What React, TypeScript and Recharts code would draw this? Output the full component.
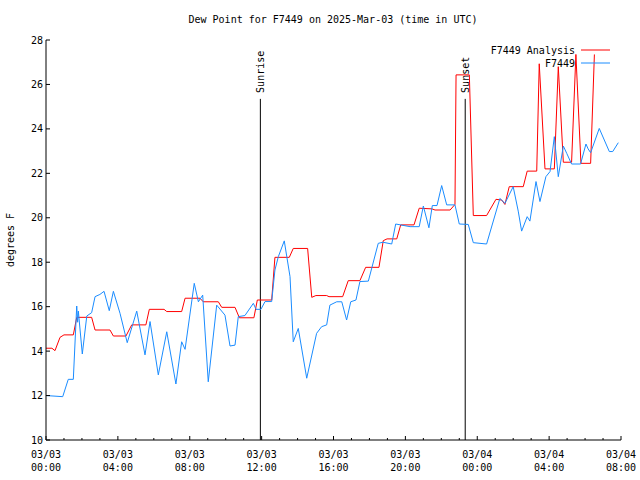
import React from 'react';
import { LineChart, Line, XAxis, YAxis, ReferenceLine } from 'recharts';

const FONT = "'DejaVu Sans Mono', 'Liberation Mono', monospace";

const title = 'Dew Point for F7449 on 2025-Mar-03 (time in UTC)';
const yLabel = 'degrees F';
const seriesNames = ['F7449 Analysis', 'F7449'];
const seriesColors = ['#ff0000', '#1a8cff'];

// [hour since 03/03 00:00 UTC, dew point °F]
const analysisPoints: [number, number][] = [
  [0, 14.13], [0.33, 14.13], [0.5, 14.02], [0.78, 14.62], [1.0, 14.73], [1.52, 14.73],
  [1.71, 15.52], [2.54, 15.52], [2.73, 14.95], [3.56, 14.95], [3.75, 14.68], [4.45, 14.68],
  [4.77, 15.18], [5.56, 15.18], [5.75, 15.88], [6.57, 15.88], [6.72, 15.78], [7.55, 15.78],
  [7.74, 16.38], [8.57, 16.38], [8.75, 16.22], [9.59, 16.22], [9.78, 15.97], [10.52, 15.97],
  [10.76, 15.5], [11.57, 15.5], [11.76, 16.3], [12.56, 16.3], [12.74, 18.22], [13.54, 18.22],
  [13.76, 18.62], [14.56, 18.62], [14.79, 16.42], [15.02, 16.5], [15.62, 16.5], [15.75, 16.45],
  [16.51, 16.45], [16.82, 17.17], [17.47, 17.17], [17.79, 17.77], [18.53, 17.77], [18.77, 18.97],
  [18.98, 19.05], [19.52, 19.05], [19.74, 19.68], [20.48, 19.68], [20.77, 20.43], [21.48, 20.4],
  [21.65, 20.35], [22.49, 20.35], [22.76, 20.6], [22.82, 26.43], [23.56, 26.43], [23.78, 20.1],
  [24.52, 20.1], [25.04, 20.83], [25.36, 20.8], [25.54, 20.6], [25.78, 21.4], [26.56, 21.4],
  [26.78, 22.1], [27.31, 22.1], [27.45, 26.93], [27.77, 22.2], [28.29, 22.2], [28.51, 26.8],
  [28.79, 22.5], [29.25, 22.5], [29.49, 27.35], [29.77, 22.45], [30.31, 22.45], [30.52, 27.35],
];

const stationPoints: [number, number][] = [
  [0, 12.0], [0.93, 11.95], [1.24, 12.73], [1.52, 12.73], [1.71, 16.03], [1.76, 15.3],
  [1.8, 15.8], [2.02, 13.87], [2.27, 15.58], [2.54, 15.73], [2.73, 16.45], [3.0, 16.55],
  [3.23, 16.69], [3.52, 15.82], [3.75, 16.69], [4.12, 15.7], [4.52, 14.38], [5.05, 15.8],
  [5.51, 13.83], [5.79, 15.33], [6.25, 12.93], [6.72, 14.87], [7.23, 12.52], [7.55, 14.42],
  [7.74, 14.08], [8.25, 17.05], [8.48, 16.22], [8.72, 16.52], [9.03, 12.62], [9.5, 16.07],
  [9.96, 15.62], [10.24, 14.23], [10.52, 14.27], [10.7, 15.55], [11.07, 15.6], [11.54, 16.15],
  [11.69, 15.88], [11.96, 15.88], [12.19, 16.23], [12.56, 16.23], [12.74, 17.65], [12.93, 18.25],
  [13.26, 18.96], [13.58, 17.35], [13.76, 14.42], [14.04, 15.02], [14.51, 12.78], [15.06, 14.8],
  [15.34, 15.1], [15.62, 15.18], [15.8, 16.07], [16.18, 16.22], [16.46, 16.22], [16.73, 15.4],
  [16.96, 16.22], [17.25, 16.3], [17.47, 17.13], [17.94, 17.15], [18.49, 18.85], [18.75, 18.9],
  [19.24, 18.82], [19.46, 19.72], [20.26, 19.6], [20.77, 19.6], [21.0, 20.53], [21.31, 19.55],
  [21.5, 20.55], [21.76, 20.55], [22.02, 21.45], [22.3, 20.58], [22.76, 20.58], [23.0, 19.72],
  [23.5, 19.7], [23.78, 18.88], [24.52, 18.82], [25.26, 20.87], [25.54, 20.65], [26.0, 21.4],
  [26.28, 20.3], [26.47, 19.4], [26.78, 20.05], [26.93, 19.85], [27.27, 21.63], [27.49, 20.73],
  [27.82, 21.85], [28.05, 22.08], [28.29, 23.65], [28.51, 21.85], [28.79, 23.23], [28.98, 22.9],
  [29.25, 22.42], [29.75, 22.42], [30.05, 23.32], [30.17, 23.1], [30.31, 22.93], [30.79, 24.02],
  [31.35, 22.98], [31.54, 22.98], [31.85, 23.38],
];

const sunriseHour = 11.93;
const sunsetHour = 23.33;
const sunLineTop = 25.35;

const xDomain: [number, number] = [0, 32];
const yDomain: [number, number] = [10, 28];
const xTicks = Array.from({ length: 33 }, (_, i) => i);
const yTicks = [10, 12, 14, 16, 18, 20, 22, 24, 26, 28];
const xTickLabels: Record<number, [string, string]> = {
  0: ['03/03', '00:00'],
  4: ['03/03', '04:00'],
  8: ['03/03', '08:00'],
  12: ['03/03', '12:00'],
  16: ['03/03', '16:00'],
  20: ['03/03', '20:00'],
  24: ['03/04', '00:00'],
  28: ['03/04', '04:00'],
  32: ['03/04', '08:00'],
};

const analysisData = analysisPoints.map(([h, v]) => ({ h, v }));
const stationData = stationPoints.map(([h, v]) => ({ h, v }));

const BottomTick = (props: any) => {
  const { x, y, payload } = props;
  const v = payload.value;
  const lab = xTickLabels[v];
  const len = lab ? 4 : 2;
  return (
    <g>
      <line x1={x} y1={y} x2={x} y2={y - len} stroke="#000" strokeWidth={1} />
      {lab && (
        <text x={x} y={y + 18} textAnchor="middle" fontFamily={FONT} fontSize={10} fill="#000">
          <tspan x={x}>{lab[0]}</tspan>
          <tspan x={x} dy={13}>{lab[1]}</tspan>
        </text>
      )}
    </g>
  );
};

const TopTick = (props: any) => {
  const { x, y, payload } = props;
  const len = xTickLabels[payload.value] ? 4 : 2;
  return <line x1={x} y1={y} x2={x} y2={y + len} stroke="#000" strokeWidth={1} />;
};

const LeftTick = (props: any) => {
  const { x, y, payload } = props;
  return (
    <g>
      <line x1={x} y1={y} x2={x + 4} y2={y} stroke="#000" strokeWidth={1} />
      <text x={x - 3} y={y} dy="0.35em" textAnchor="end" fontFamily={FONT} fontSize={10} fill="#000">
        {payload.value}
      </text>
    </g>
  );
};

const RightTick = (props: any) => {
  const { x, y } = props;
  return <line x1={x} y1={y} x2={x - 4} y2={y} stroke="#000" strokeWidth={1} />;
};

const SunLabel = (props: any) => {
  const vb = props.viewBox || {};
  const tx = (vb.x ?? 0) + 4;
  const ty = (vb.y ?? 0) - 6;
  return (
    <text
      x={tx}
      y={ty}
      transform={`rotate(-90, ${tx}, ${ty})`}
      textAnchor="start"
      fontFamily={FONT}
      fontSize={10}
      fill="#000"
    >
      {props.text}
    </text>
  );
};

export default function App() {
  return (
    <div style={{ position: 'absolute', left: 0, top: 0, width: 640, height: 480, background: '#fff' }}>
      <LineChart
        width={640}
        height={480}
        margin={{ top: 40, right: 19, bottom: 0, left: 0 }}
      >
        <XAxis
          xAxisId="bottom"
          dataKey="h"
          type="number"
          domain={xDomain}
          ticks={xTicks}
          interval={0}
          allowDataOverflow
          height={40}
          tickSize={0}
          tickMargin={0}
          tickLine={false}
          axisLine={{ stroke: '#000' }}
          tick={<BottomTick />}
        />
        <XAxis
          xAxisId="top"
          orientation="top"
          dataKey="h"
          type="number"
          domain={xDomain}
          ticks={xTicks}
          interval={0}
          allowDataOverflow
          height={0}
          tickSize={0}
          tickMargin={0}
          tickLine={false}
          axisLine={{ stroke: '#000' }}
          tick={<TopTick />}
        />
        <YAxis
          yAxisId="left"
          type="number"
          domain={yDomain}
          ticks={yTicks}
          interval={0}
          allowDataOverflow
          width={46}
          tickSize={0}
          tickMargin={0}
          tickLine={false}
          axisLine={{ stroke: '#000' }}
          tick={<LeftTick />}
        />
        <YAxis
          yAxisId="right"
          orientation="right"
          type="number"
          domain={yDomain}
          ticks={yTicks}
          interval={0}
          allowDataOverflow
          width={0}
          tickSize={0}
          tickMargin={0}
          tickLine={false}
          axisLine={{ stroke: '#000' }}
          tick={<RightTick />}
        />
        <ReferenceLine
          xAxisId="bottom"
          yAxisId="left"
          segment={[{ x: sunriseHour, y: yDomain[0] }, { x: sunriseHour, y: sunLineTop }]}
          stroke="#000"
          strokeWidth={1}
          label={<SunLabel text="Sunrise" />}
        />
        <ReferenceLine
          xAxisId="bottom"
          yAxisId="left"
          segment={[{ x: sunsetHour, y: yDomain[0] }, { x: sunsetHour, y: sunLineTop }]}
          stroke="#000"
          strokeWidth={1}
          label={<SunLabel text="Sunset" />}
        />
        <Line
          xAxisId="bottom"
          yAxisId="left"
          data={analysisData}
          dataKey="v"
          type="linear"
          stroke={seriesColors[0]}
          strokeWidth={1}
          dot={false}
          isAnimationActive={false}
          name={seriesNames[0]}
        />
        <Line
          xAxisId="bottom"
          yAxisId="left"
          data={stationData}
          dataKey="v"
          type="linear"
          stroke={seriesColors[1]}
          strokeWidth={1}
          dot={false}
          isAnimationActive={false}
          name={seriesNames[1]}
        />
      </LineChart>
      <svg
        width={640}
        height={480}
        style={{ position: 'absolute', left: 0, top: 0, pointerEvents: 'none' }}
      >
        <text x={333} y={23} textAnchor="middle" fontFamily={FONT} fontSize={10} fill="#000">
          {title}
        </text>
        <text
          x={13.5}
          y={240}
          transform="rotate(-90, 13.5, 240)"
          textAnchor="middle"
          fontFamily={FONT}
          fontSize={10}
          fill="#000"
        >
          {yLabel}
        </text>
        {seriesNames.map((n, i) => (
          <g key={n}>
            <text x={575} y={50 + i * 13} dy="0.35em" textAnchor="end" fontFamily={FONT} fontSize={10} fill="#000">
              {n}
            </text>
            <line x1={581} y1={50 + i * 13} x2={610} y2={50 + i * 13} stroke={seriesColors[i]} strokeWidth={1} />
          </g>
        ))}
      </svg>
    </div>
  );
}
